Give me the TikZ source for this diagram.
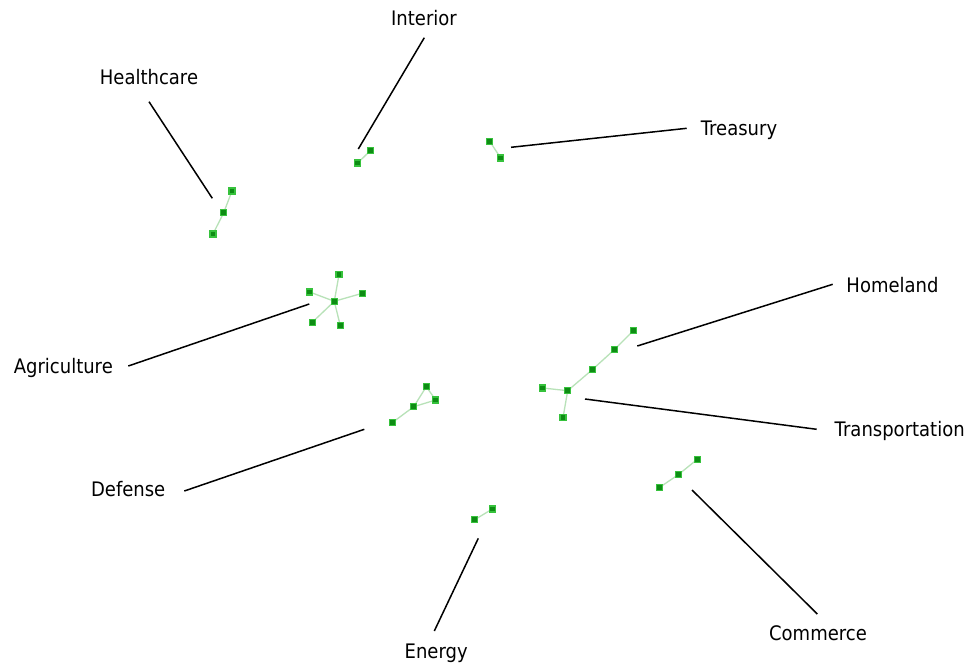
\documentclass[tikz,border=0pt]{standalone}
\usepackage{fontspec}
\setmainfont{DejaVu Sans}[FakeStretch=0.9]
\definecolor{vfill}{HTML}{0E8C14}
\definecolor{vborder}{HTML}{36C23C}
\definecolor{elight}{HTML}{B8E2B8}
\begin{document}
\begin{tikzpicture}[x=1bp,y=-1bp,
  vert/.style={draw=vborder,fill=vfill,line width=1.2bp,minimum size=6bp,inner sep=0pt,outer sep=0pt,rectangle},
  gedge/.style={draw=elight,line width=1.3bp},
  lbl/.style={anchor=base,inner sep=0pt,font=\fontsize{20bp}{24bp}\selectfont},
  leader/.style={draw=black,line width=1.5bp}]
\useasboundingbox[fill=white] (0,0) rectangle (969,664);
% vertices
\coordinate (h1) at (232,191); \coordinate (h2) at (223.7,212.7); \coordinate (h3) at (213,234);
\coordinate (i1) at (370.3,150.7); \coordinate (i2) at (357.7,163);
\coordinate (t1) at (489.7,141.3); \coordinate (t2) at (500.7,158);
\coordinate (a0) at (334.3,301.3); \coordinate (a1) at (339,274.7); \coordinate (a2) at (309.7,292);
\coordinate (a3) at (362.3,293.3); \coordinate (a4) at (312.3,322.3); \coordinate (a5) at (340.3,325.7);
\coordinate (s1) at (633.3,330.7); \coordinate (s2) at (614.7,349.3); \coordinate (s3) at (592.7,369.3);
\coordinate (s4) at (567.7,390.7); \coordinate (s5) at (542.7,388); \coordinate (s6) at (563,417.7);
\coordinate (d1) at (426.3,386.7); \coordinate (d2) at (435.7,400); \coordinate (d3) at (413.7,406.7); \coordinate (d4) at (392.7,422.3);
\coordinate (c1) at (697.3,459.3); \coordinate (c2) at (678.3,474.7); \coordinate (c3) at (659.7,487.3);
\coordinate (e1) at (492.3,509); \coordinate (e2) at (474.7,519.7);
% graph edges
\draw[gedge] (h1)--(h2)--(h3);
\draw[gedge] (i1)--(i2);
\draw[gedge] (t1)--(t2);
\draw[gedge] (a0)--(a1) (a0)--(a2) (a0)--(a3) (a0)--(a4) (a0)--(a5);
\draw[gedge] (s1)--(s2)--(s3)--(s4)--(s5) (s4)--(s6);
\draw[gedge] (d4)--(d3)--(d1)--(d2)--(d3);
\draw[gedge] (c1)--(c2)--(c3);
\draw[gedge] (e1)--(e2);
\foreach \v in {h1,h2,h3,i1,i2,t1,t2,a0,a1,a2,a3,a4,a5,s1,s2,s3,s4,s5,s6,d1,d2,d3,d4,c1,c2,c3,e1,e2}
  \node[vert] (n\v) at (\v) {};
% labels
\node[lbl] (lInterior) at (424,26) {Interior};
\node[lbl] (lHealth) at (149,85) {Healthcare};
\node[lbl] (lTreasury) at (739,136) {Treasury};
\node[lbl] (lHomeland) at (892.5,292.7) {Homeland};
\node[lbl] (lAgri) at (63.3,373.3) {Agriculture};
\node[lbl] (lTransp) at (899.7,436.7) {Transportation};
\node[lbl] (lDefense) at (128.2,496.7) {Defense};
\node[lbl] (lEnergy) at (436.2,658.3) {Energy};
\node[lbl] (lCommerce) at (818,640) {Commerce};
% leader ends
\coordinate (kI1) at (424.3,37.7); \coordinate (kI2) at (358.3,149);
\coordinate (kH1) at (149,101.7); \coordinate (kH2) at (212.3,198.3);
\coordinate (kT1) at (686.7,128.3); \coordinate (kT2) at (511,147.3);
\coordinate (kM1) at (832.7,284.3); \coordinate (kM2) at (637.3,346);
\coordinate (kA1) at (128.3,366); \coordinate (kA2) at (309.3,304);
\coordinate (kR1) at (816.7,429.3); \coordinate (kR2) at (585,399);
\coordinate (kD1) at (184.3,491); \coordinate (kD2) at (364.3,429.3);
\coordinate (kE1) at (434.3,631); \coordinate (kE2) at (478.3,538.3);
\coordinate (kC1) at (817.3,614); \coordinate (kC2) at (692,490);
\draw[leader] (kI1)--(kI2) (kH1)--(kH2) (kT1)--(kT2) (kM1)--(kM2) (kA1)--(kA2)
  (kR1)--(kR2) (kD1)--(kD2) (kE1)--(kE2) (kC1)--(kC2);
\end{tikzpicture}
\end{document}
